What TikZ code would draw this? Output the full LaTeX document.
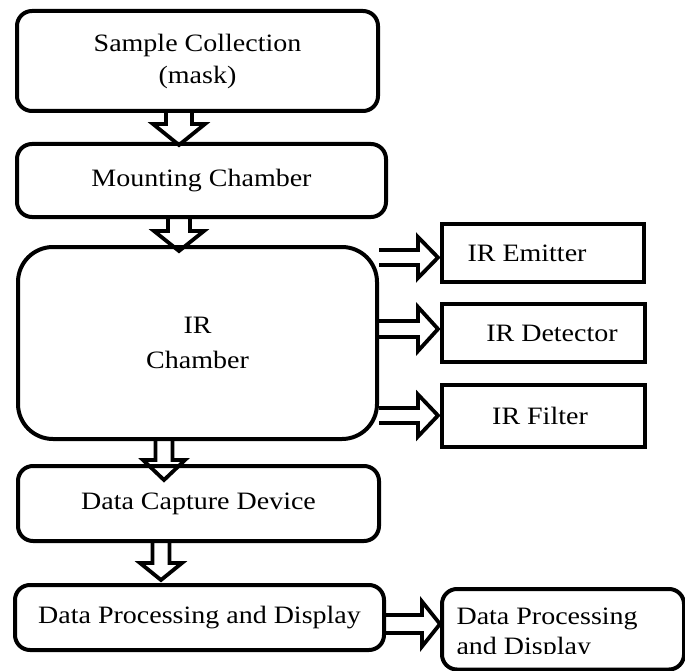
\documentclass[tikz,border=0pt]{standalone}
\usepackage{fontspec}
\setmainfont{Liberation Serif}[FakeStretch=1.12]
\usetikzlibrary{calc}

\tikzset{
    box/.style={draw, line width=4pt, rounded corners=15pt, inner sep=0pt, align=center, font=\fontsize{25}{32}\selectfont},
    irbox/.style={draw, line width=4pt, inner sep=0pt},
    irtext/.style={font=\fontsize{25}{30}\selectfont},
    hollow/.style={draw, line width=3.8pt, line join=miter},
    blockdown/.style n args={3}{to path={let \p1=(\tikztostart), \p2=(\tikztotarget) in
        (\x1-#1,\y1) -- (\x1-#1,\y2+#3) -- (\x1-#2,\y2+#3) -- (\x1,\y2) -- (\x1+#2,\y2+#3) -- (\x1+#1,\y2+#3) -- (\x1+#1,\y1)}},
    blockright/.style n args={3}{to path={let \p1=(\tikztostart), \p2=(\tikztotarget) in
        (\x1,\y1+#1) -- (\x2-#3,\y1+#1) -- (\x2-#3,\y1+#2) -- (\x2,\y1) -- (\x2-#3,\y1-#2) -- (\x2-#3,\y1-#1) -- (\x1,\y1-#1)}}
}

\begin{document}
\begin{tikzpicture}[x=1pt,y=-1pt]
        \useasboundingbox (0,0) rectangle (685,671);
        \clip (0,0) rectangle (685,671);

        \node[box, minimum width=361, minimum height=100] (sample) at (197.5,61) {Sample Collection\\(mask)};
        \node[box, minimum width=369, minimum height=73] (mount) at (201.5,180.5) {Mounting Chamber};
        \node[box, rounded corners=35pt, minimum width=359, minimum height=192, font=\fontsize{25}{35}\selectfont] (ir) at (197.5,343) {IR\\Chamber};
        \node[box, minimum width=361, minimum height=75] (capture) at (198.5,503.5) {Data Capture Device};
        \node[box, minimum width=369, minimum height=65] (display) at (199.5,617.5) {Data Processing and Display};

        \node[irbox, minimum width=202, minimum height=58, label={[irtext, xshift=-16pt]center:IR Emitter}] (emitter) at (543,253) {};
        \node[irbox, minimum width=203, minimum height=58, label={[irtext, xshift=8.5pt]center:IR Detector}] (detector) at (543.5,333) {};
        \node[irbox, minimum width=203, minimum height=62, label={[irtext, xshift=-3.5pt]center:IR Filter}] (filter) at (543.5,416) {};

        % text box cut off at the second line
        \node[box, anchor=north west, minimum width=242, minimum height=80.5] (output) at (440,587) {};
        \begin{scope}
            \clip (output.north west) rectangle (685,653);
            \node[irtext, align=left, anchor=north west] (outtext) at ([xshift=13pt,yshift=-17pt]output.north west) {Data Processing\\and Display};
        \end{scope}

        % down the chain
        \path[hollow] ([xshift=-18.5pt]sample.south) to[blockdown={13}{26}{21}] ([yshift=-3pt]mount.north);
        \path[hollow] ([xshift=-22.5pt]mount.south) to[blockdown={11}{25}{20}] ([yshift=-6pt]ir.north);
        \path[hollow] ([xshift=-33.5pt]ir.south) to[blockdown={8.5}{21}{20}] ([yshift=-16pt]capture.north);
        \path[hollow] ([xshift=-37.5pt]capture.south) to[blockdown={8.5}{21}{17}] ([yshift=3pt]display.north);

        % out of the chamber
        \path[hollow] ([yshift=85.5pt]ir.east) to[blockright={7.5}{20.5}{20}] ([xshift=-2pt]emitter.west);
        \path[hollow] ([yshift=14pt]ir.east) to[blockright={8}{22}{20}] ([xshift=-2pt]detector.west);
        \path[hollow] ([yshift=-72.5pt]ir.east) to[blockright={7.5}{21}{20}] ([xshift=-2pt]filter.west);
        \path[hollow] ([yshift=-6.5pt]display.east) to[blockright={9}{22.5}{18}] (output.west);
    \end{tikzpicture}
\end{document}
